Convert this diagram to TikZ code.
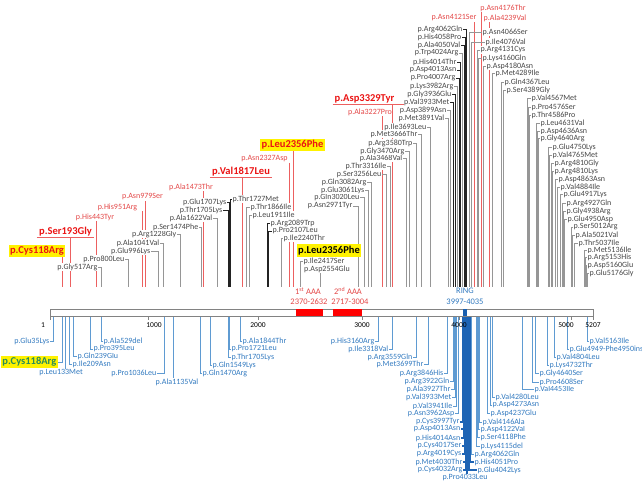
\documentclass[tikz,border=0pt]{standalone}
\usepackage{fontspec}
\setmainfont{Carlito}
\pgfdeclarelayer{bg}
\pgfdeclarelayer{paper}
\pgfsetlayers{paper,bg,main}
\definecolor{labgray}{RGB}{70,70,70}
\definecolor{labred}{RGB}{228,72,72}
\definecolor{bigred}{RGB}{235,20,20}
\definecolor{labblue}{RGB}{50,122,192}
\definecolor{linegray}{RGB}{150,150,150}
\definecolor{lineblack}{RGB}{35,35,35}
\definecolor{linered}{RGB}{236,96,96}
\definecolor{lineblue}{RGB}{95,155,210}
\definecolor{linedblue}{RGB}{30,100,180}
\definecolor{ringblue}{RGB}{25,95,175}
\definecolor{axisgray}{RGB}{130,130,130}
\definecolor{hlgreen}{RGB}{40,140,90}
\tikzset{
  lab/.style={font=\fontsize{8}{9}\selectfont, text=labgray, fill=white, inner xsep=0.5pt, inner ysep=0.4pt},
  rlab/.style={lab, text=labred},
  blab/.style={lab, text=labblue},
  bigr/.style={font=\fontsize{10.5}{12}\selectfont\bfseries, text=bigred, fill=white, inner xsep=1pt, inner ysep=1pt},
  yhl/.style={bigr, fill=yellow, inner xsep=1.5pt, inner ysep=1.5pt},
  yhlk/.style={yhl, text=black},
  yhlg/.style={yhl, text=hlgreen},
  gl/.style={draw=linegray, line width=0.9pt},
  kl/.style={draw=lineblack, line width=0.9pt},
  rl/.style={draw=linered, line width=0.9pt},
  bl/.style={draw=lineblue, line width=0.9pt},
  dbl/.style={draw=linedblue, line width=1.1pt},
  tick/.style={font=\fontsize{7.5}{9}\selectfont, text=black, inner sep=0.5pt},
  dred/.style={font=\fontsize{8.5}{10}\selectfont, text=labred, inner sep=0.5pt},
  dblu/.style={font=\fontsize{8.5}{10}\selectfont, text=labblue, inner sep=0.5pt},
}
% label left of its line (hook on the right)
\newcommand\mutR[8]{%
  \node[#2,anchor=east] (#1) at (#4,#6) {#8};
  \coordinate (#1e) at (#5,#7);
  \begin{pgfonlayer}{bg}\draw[#3] (#1.east) -| (#1e);\end{pgfonlayer}}
% label right of its line (hook on the left)
\newcommand\mutL[8]{%
  \node[#2,anchor=west] (#1) at (#4,#6) {#8};
  \coordinate (#1e) at (#5,#7);
  \begin{pgfonlayer}{bg}\draw[#3] (#1.west) -| (#1e);\end{pgfonlayer}}
% label above its line
\newcommand\mutT[8]{%
  \node[#2] (#1) at (#4,#6) {#8};
  \coordinate (#1e) at (#5,#7);
  \begin{pgfonlayer}{bg}\draw[#3] (#1e |- #1.south) -- (#1e);\end{pgfonlayer}}
% label below its line
\newcommand\mutB[8]{%
  \node[#2] (#1) at (#4,#6) {#8};
  \coordinate (#1e) at (#5,#7);
  \begin{pgfonlayer}{bg}\draw[#3] (#1e |- #1.north) -- (#1e);\end{pgfonlayer}}
% bold underlined red label
\newcommand\mutU[6]{%
  \node[bigr] (#1) at (#2,#3) {#5};
  \draw[rl] ([xshift=-1pt]#1.south west) -- ([xshift=#6]#1.south east);
  \coordinate (#1e) at (#4,287);
  \begin{pgfonlayer}{bg}\draw[rl] (#1e |- #1.south) -- (#1e);\end{pgfonlayer}}
\begin{document}
\begin{tikzpicture}[x=1pt,y=-1pt]
\useasboundingbox (0,0) rectangle (642,482);
\begin{pgfonlayer}{paper}\fill[white] (0,0) rectangle (642,482);\end{pgfonlayer}
\clip (0,0) rectangle (642,482);

% ---------- axis ----------
\draw[axisgray, fill=white, line width=0.8pt] (50,309) rectangle (593,316);
\fill[red] (296,309) rectangle (323,316);
\fill[red] (333,309) rectangle (362,316);
\fill[ringblue] (463,309) rectangle (467,316);
\foreach \tx in {50,148,258,362,459,571,593} {\draw[axisgray, line width=0.8pt] (\tx,316) -- (\tx,320);}
\node[tick] (t1) at (43,325) {1};
\node[tick] (t1000) at (154,325) {1000};
\node[tick] (t2000) at (258,325) {2000};
\node[tick] (t3000) at (362,325) {3000};
\node[tick] (t4000) at (459,325) {4000};
\node[tick] (t5000) at (566,325) {5000};
\node[tick] (t5207) at (593,325) {5207};

\node[dred] (aaa1) at (308,291) {1\textsuperscript{st} AAA};
\node[dred] (aaa1r) at (309,302) {2370-2632};
\node[dred] (aaa2) at (348,291) {2\textsuperscript{nd} AAA};
\node[dred] (aaa2r) at (350,302) {2717-3004};
\node[dblu] (ring) at (465,291) {RING};
\node[dblu] (ringr) at (465,302) {3997-4035};

% ---------- top, left part ----------
\mutR{gly517}{lab}{gl}{98}{101}{267}{287}{p.Gly517Arg}
\mutR{pro800}{lab}{gl}{125}{128}{259}{287}{p.Pro800Leu}
\mutR{glu996}{lab}{gl}{151}{158}{251}{287}{p.Glu996Lys}
\mutR{ala1041}{lab}{gl}{160}{163}{243}{287}{p.Ala1041Val}
\mutR{arg1228}{lab}{gl}{177}{180}{234}{287}{p.Arg1228Gly}
\mutR{ser1474}{lab}{gl}{199}{201}{227}{287}{p.Ser1474Phe}
\mutR{ala1622}{lab}{gl}{213}{217}{218}{287}{p.Ala1622Val}
\mutR{thr1705}{lab}{kl}{223}{228}{210}{287}{p.Thr1705Lys}
\mutR{glu1707}{lab}{kl}{227}{229}{202}{287}{p.Glu1707Lys}
\mutL{thr1727}{lab}{kl}{232}{230}{199}{287}{p.Thr1727Met}
\mutL{thr1866}{lab}{gl}{250}{246}{207}{287}{p.Thr1866Ile}
\mutL{leu1911}{lab}{gl}{252}{249}{215}{287}{p.Leu1911Ile}
\mutL{arg2089}{lab}{kl}{270}{267}{223}{287}{p.Arg2089Trp}
\mutL{pro2107}{lab}{kl}{272}{268}{231}{287}{p.Pro2107Leu}
\mutL{ile2240}{lab}{gl}{283}{281}{238}{287}{p.Ile2240Thr}
\mutL{ile2417}{lab}{gl}{303}{300}{261}{287}{p.Ile2417Ser}
\mutT{asp2554}{lab}{gl}{327}{320}{269}{287}{p.Asp2554Glu}

% red labels
\mutT{his443}{rlab}{rl}{95}{96}{217}{287}{p.His443Tyr}
\mutT{his951}{rlab}{rl}{117.5}{142}{207}{287}{p.His951Arg}
\mutT{asn979}{rlab}{rl}{142.5}{145}{197}{287}{p.Asn979Ser}
\mutT{ala1473}{rlab}{rl}{191}{203}{187}{287}{p.Ala1473Thr}
\mutT{asn2327}{rlab}{rl}{264.5}{289}{159}{287}{p.Asn2327Asp}
\mutT{ala3227}{rlab}{rl}{370}{382}{112}{287}{p.Ala3227Pro}
\mutT{asn4121}{rlab}{rl}{454}{474}{18}{287}{p.Asn4121Ser}
\mutT{asn4176}{rlab}{rl}{503}{481}{8}{287}{p.Asn4176Thr}
\mutT{ala4239}{rlab}{rl}{505}{489}{18}{287}{p.Ala4239Val}

% bold / highlighted
\mutT{cys118}{yhl}{rl}{37}{62}{251}{287}{p.Cys118Arg}
\mutU{ser193}{65.5}{232}{70}{p.Ser193Gly}{1pt}
\mutU{val1817}{241}{172}{242}{p.Val1817Leu}{1pt}
\mutT{leu2356}{yhl}{rl}{292.5}{293}{145}{287}{p.Leu2356Phe}
\node[yhlk] (leu2356b) at (329,250.5) {p.Leu2356Phe};
\mutU{asp3329}{364.5}{99}{392}{p.Asp3329Tyr}{9pt}

% ---------- top, middle part ----------
\mutR{asn2971}{lab}{gl}{353}{358}{206}{287}{p.Asn2971Tyr}
\mutR{gln3020}{lab}{gl}{360}{364}{197}{287}{p.Gln3020Leu}
\mutR{glu3061}{lab}{gl}{365}{368}{190}{287}{p.Glu3061Lys}
\mutR{gln3082}{lab}{gl}{367}{371}{182}{287}{p.Gln3082Arg}
\mutR{ser3256}{lab}{gl}{382}{386}{174}{287}{p.Ser3256Leu}
\mutR{thr3316}{lab}{gl}{387}{390}{166}{287}{p.Thr3316Ile}
\mutR{ala3468}{lab}{gl}{403}{406}{158}{287}{p.Ala3468Val}
\mutR{gly3470}{lab}{gl}{405}{409}{151}{287}{p.Gly3470Arg}
\mutR{arg3580}{lab}{gl}{413}{416}{143}{287}{p.Arg3580Trp}
\mutR{met3666}{lab}{gl}{418}{421}{134}{287}{p.Met3666Thr}
\mutR{ile3693}{lab}{gl}{427}{430}{127}{287}{p.Ile3693Leu}
\mutR{met3891}{lab}{gl}{445}{448}{118}{287}{p.Met3891Val}
\mutR{asp3899}{lab}{gl}{447}{450}{110}{287}{p.Asp3899Asn}
\mutR{val3933}{lab}{kl}{450}{453}{102}{287}{p.Val3933Met}
\mutR{gly3936}{lab}{kl}{452}{455}{94}{287}{p.Gly3936Glu}
\mutR{lys3982}{lab}{gl}{454}{457}{86}{287}{p.Lys3982Arg}
\mutR{pro4007}{lab}{kl}{456}{459}{78}{287}{p.Pro4007Arg}
\mutR{asp4013}{lab}{kl}{457}{460}{70}{287}{p.Asp4013Asn}
\mutR{his4014}{lab}{kl}{457}{460}{62}{287}{p.His4014Thr}
\mutR{trp4024}{lab}{gl}{459}{462}{53}{287}{p.Trp4024Arg}
\mutR{ala4050}{lab}{kl}{461}{464}{45}{287}{p.Ala4050Val}
\mutR{his4058}{lab}{kl}{462}{465}{37}{287}{p.His4058Pro}
\mutR{arg4062}{lab}{kl}{463}{466}{29}{287}{p.Arg4062Gln}

% ---------- top, right part ----------
\mutL{asn4066}{lab}{gl}{482}{469}{32}{287}{p.Asn4066Ser}
\mutL{ile4076}{lab}{gl}{485}{471}{42}{287}{p.Ile4076Val}
\mutL{arg4131}{lab}{gl}{480}{477}{50}{287}{p.Arg4131Cys}
\mutL{lys4160}{lab}{gl}{482}{478}{58}{287}{p.Lys4160Gln}
\mutL{asp4180}{lab}{gl}{486}{483}{66}{287}{p.Asp4180Asn}
\mutL{met4289}{lab}{gl}{495}{492}{73}{287}{p.Met4289Ile}
\mutL{gln4367}{lab}{gl}{504}{501}{82}{287}{p.Gln4367Leu}
\mutL{ser4389}{lab}{gl}{506}{503}{90}{287}{p.Ser4389Gly}
\mutL{val4567}{lab}{gl}{531}{527}{98}{287}{p.Val4567Met}
\mutL{pro4576}{lab}{gl}{531}{528}{107}{287}{p.Pro4576Ser}
\mutL{thr4586}{lab}{gl}{531}{529}{115}{287}{p.Thr4586Pro}
\mutL{leu4631}{lab}{gl}{540}{536}{123}{287}{p.Leu4631Val}
\mutL{asp4636}{lab}{gl}{540}{537}{131}{287}{p.Asp4636Asn}
\mutL{gly4640}{lab}{gl}{540}{538}{138}{287}{p.Gly4640Arg}
\mutL{glu4750}{lab}{gl}{552}{548}{147}{287}{p.Glu4750Lys}
\mutL{val4765}{lab}{gl}{552}{549}{155}{287}{p.Val4765Met}
\mutL{arg4810g}{lab}{gl}{554}{551}{163}{287}{p.Arg4810Gly}
\mutL{arg4810k}{lab}{gl}{554}{552}{171}{287}{p.Arg4810Lys}
\mutL{asp4863}{lab}{gl}{558}{555}{179}{287}{p.Asp4863Asn}
\mutL{val4884}{lab}{gl}{560}{557}{187}{287}{p.Val4884Ile}
\mutL{glu4917}{lab}{gl}{563}{560}{194}{287}{p.Glu4917Lys}
\mutL{arg4927}{lab}{gl}{566}{562}{203}{287}{p.Arg4927Gln}
\mutL{gly4938}{lab}{gl}{566}{563}{211}{287}{p.Gly4938Arg}
\mutL{glu4950}{lab}{gl}{567}{564}{219}{287}{p.Glu4950Asp}
\mutL{ser5012}{lab}{gl}{573}{571}{227}{287}{p.Ser5012Arg}
\mutL{ala5021}{lab}{gl}{575}{572}{235}{287}{p.Ala5021Val}
\mutL{thr5037}{lab}{gl}{578}{574}{243}{287}{p.Thr5037Ile}
\mutL{met5136}{lab}{gl}{587}{584}{250}{287}{p.Met5136Ile}
\mutL{arg5153}{lab}{gl}{587}{585}{257}{287}{p.Arg5153His}
\mutL{asp5160}{lab}{gl}{587}{586}{265}{287}{p.Asp5160Glu}
\mutL{glu5176}{lab}{gl}{589}{587}{273}{287}{p.Glu5176Gly}

% ---------- bottom, left part ----------
\mutR{bglu35}{blab}{bl}{50}{53}{341}{317}{p.Glu35Lys}
\mutR{bcys118}{yhlg}{bl}{58}{62}{362}{317}{p.Cys118Arg}
\mutB{bleu133}{blab}{bl}{61}{65}{373}{317}{p.Leu133Met}
\mutL{bile209}{blab}{bl}{72}{69}{364}{317}{p.Ile209Asn}
\mutL{bgln239}{blab}{bl}{77}{73}{356}{317}{p.Gln239Glu}
\mutL{bpro395}{blab}{bl}{93}{90}{349}{317}{p.Pro395Leu}
\mutL{bala529}{blab}{bl}{103}{101}{341}{317}{p.Ala529del}
\mutR{bpro1036}{blab}{bl}{157}{164}{373}{317}{p.Pro1036Leu}
\mutB{bala1135}{blab}{bl}{177}{173}{382}{317}{p.Ala1135Val}
\mutL{bgln1470}{blab}{bl}{202}{200}{373}{317}{p.Gln1470Arg}
\mutL{bgln1549}{blab}{bl}{212}{210}{365}{317}{p.Gln1549Lys}
\mutL{bthr1705}{blab}{bl}{231}{228}{357}{317}{p.Thr1705Lys}
\mutL{bpro1721}{blab}{bl}{231}{229}{349}{317}{p.Pro1721Leu}
\mutL{bala1844}{blab}{bl}{242}{240}{341}{317}{p.Ala1844Thr}

% ---------- bottom, middle part ----------
\mutR{bhis3160}{blab}{bl}{375}{378}{341}{317}{p.His3160Arg}
\mutR{bile3318}{blab}{bl}{389}{392}{349}{317}{p.Ile3318Val}
\mutR{barg3559}{blab}{bl}{413}{416}{357}{317}{p.Arg3559Gln}
\mutR{bmet3699}{blab}{bl}{424}{428}{364}{317}{p.Met3699Thr}
\mutR{barg3846}{blab}{bl}{444}{447}{373}{317}{p.Arg3846His}
\mutR{barg3922}{blab}{bl}{450}{453}{381}{317}{p.Arg3922Gln}
\mutR{bala3927}{blab}{bl}{451}{454}{389}{317}{p.Ala3927Thr}
\mutR{bval3933}{blab}{bl}{452}{455}{397}{317}{p.Val3933Met}
\mutR{bval3941}{blab}{bl}{453}{456}{406}{317}{p.Val3941Ile}
\mutR{basn3962}{blab}{bl}{455}{458}{413}{317}{p.Asn3962Asp}
\mutR{bcys3997}{blab}{dbl}{460}{463}{422}{317}{p.Cys3997Tyr}
\mutR{basp4013}{blab}{dbl}{461}{464}{429}{317}{p.Asp4013Asn}
\mutR{bhis4014}{blab}{dbl}{461}{464}{438}{317}{p.His4014Asn}
\mutR{bcys4017}{blab}{dbl}{462}{465}{446}{317}{p.Cys4017Ser}
\mutR{barg4019}{blab}{dbl}{462}{465}{454}{317}{p.Arg4019Cys}
\mutR{bmet4030}{blab}{dbl}{463}{466}{462}{317}{p.Met4030Thr}
\mutR{bcys4032}{blab}{dbl}{463}{466}{470}{317}{p.Cys4032Arg}
\mutB{bpro4033}{blab}{dbl}{465}{467}{477.5}{317}{p.Pro4033Leu}

% ---------- bottom, right part ----------
\mutL{bglu4042}{blab}{dbl}{477}{469}{470}{317}{p.Glu4042Lys}
\mutL{bhis4051}{blab}{dbl}{474}{470}{462}{317}{p.His4051Pro}
\mutL{barg4062}{blab}{bl}{474}{471}{454}{317}{p.Arg4062Gln}
\mutL{blys4115}{blab}{bl}{480}{476}{446}{317}{p.Lys4115del}
\mutL{bser4118}{blab}{bl}{480}{477}{437}{317}{p.Ser4118Phe}
\mutL{basp4122}{blab}{bl}{480}{478}{429}{317}{p.Asp4122Val}
\mutL{bval4146}{blab}{bl}{482}{479}{422}{317}{p.Val4146Ala}
\mutL{basp4237}{blab}{bl}{490}{487}{413}{317}{p.Asp4237Glu}
\mutL{basp4273}{blab}{bl}{492}{490}{405}{317}{p.Asp4273Asn}
\mutL{bval4280}{blab}{bl}{495}{492}{397}{317}{p.Val4280Leu}
\mutL{bval4453}{blab}{bl}{534}{522}{389}{317}{p.Val4453Ile}
\mutL{bpro4608}{blab}{bl}{539}{532}{382}{317}{p.Pro4608Ser}
\mutL{bgly4640}{blab}{bl}{539}{535}{373}{317}{p.Gly4640Ser}
\mutL{blys4732}{blab}{bl}{549}{547}{365}{317}{p.Lys4732Thr}
\mutL{bval4804}{blab}{bl}{556}{554}{357}{317}{p.Val4804Leu}
\mutL{bglu4949}{blab}{bl}{569}{567}{349}{317}{p.Glu4949-Phe4950ins}
\mutL{bval5163}{blab}{bl}{589}{587}{341}{317}{p.Val5163Ile}
\end{tikzpicture}
\end{document}
